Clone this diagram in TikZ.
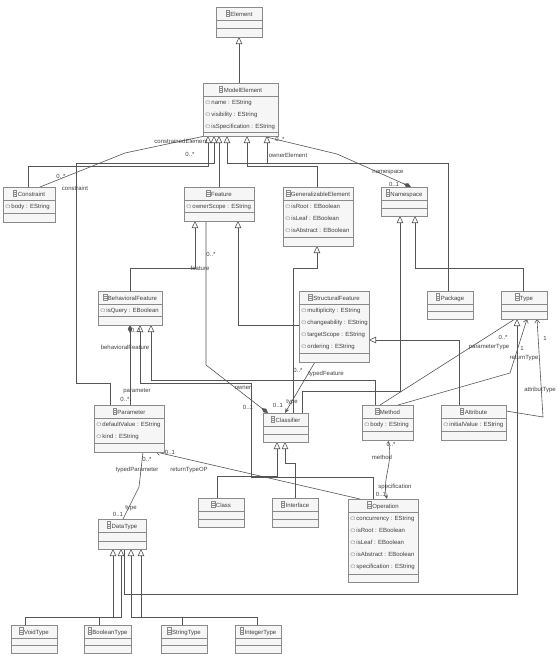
\documentclass[tikz,border=0pt]{standalone}
\usepackage{fontspec}
\setmainfont{Liberation Sans}
\usetikzlibrary{arrows.meta,shadows}
\pgfdeclarelayer{bg}
\pgfsetlayers{bg,main}
\definecolor{linec}{HTML}{555555}
\definecolor{boxc}{HTML}{8A8A8A}
\definecolor{boxf}{HTML}{F6F6F6}
\definecolor{txtc}{HTML}{404040}
\newcommand{\clsicon}{\tikz[x=1pt,y=1pt,baseline=-0.3pt]{\draw[line width=0.35pt,boxc] (0,0) rectangle (3.6,6.4); \draw[line width=0.35pt,boxc] (0,2.1)--(3.6,2.1) (0,4.3)--(3.6,4.3);}}
\newcommand{\aicon}{\tikz[x=1pt,y=1pt,baseline=0pt]{\draw[line width=0.35pt,boxc,rounded corners=0.6pt] (0,0.6) rectangle (3.8,3.2);}\hspace{1.6pt}}
\tikzset{
 cbox/.style={draw=boxc, fill=boxf, line width=0.6pt, inner sep=0pt, outer sep=0pt, drop shadow={shadow xshift=1pt, shadow yshift=-1pt, opacity=0.3}},
 cline/.style={draw=boxc, line width=0.5pt},
 ctitle/.style={font=\fontsize{6}{7}\selectfont, text=txtc, inner sep=0pt},
 cattr/.style={font=\fontsize{6}{12}\selectfont, text=txtc, inner sep=0pt, align=left},
 gen/.style={draw=linec, line width=0.6pt, -{Triangle[open,length=7pt,width=6.5pt]}},
 assoc/.style={draw=linec, line width=0.6pt},
 comp/.style={draw=linec, line width=0.6pt, {Diamond[length=8pt,width=4.5pt]}-},
 nav/.style={draw=linec, line width=0.6pt, -{Straight Barb[length=3.5pt,width=5pt]}},
 lbl/.style={font=\fontsize{6}{7}\selectfont, text=txtc, inner sep=0pt},
}
\newcommand{\umlbox}[8]{%
 \node[cbox, minimum width={(#4-#2)*1pt}, minimum height={(#5-#3)*1pt}, anchor=north west] (#1) at (#2,#3) {};
 \draw[cline] (#2,{#3+13}) -- (#4,{#3+13});
 \draw[cline] (#2,#7) -- (#4,#7);
 \node[ctitle] (#1-t) at ({(#2+#4)/2},{#3+6.5}) {\clsicon\,#6};
 \node[cattr, anchor=north west] (#1-a) at ({#2+2.5},{#3+16.5}) {#8};
}
\begin{document}
\begin{tikzpicture}[x=1pt,y=-1pt]
\useasboundingbox (0,0) rectangle (557,667);
\begin{pgfonlayer}{bg}
\fill[white] (0,0) rectangle (557,667);
\end{pgfonlayer}

\umlbox{Element}{216}{7}{262}{37}{Element}{28}{}
\umlbox{ModelElement}{203}{83}{278}{136}{ModelElement}{132}{\aicon name : EString\\\aicon visibility : EString\\\aicon isSpecification : EString}
\umlbox{Constraint}{3}{187}{55}{222}{Constraint}{213}{\aicon body : EString}
\umlbox{Feature}{184}{187}{254}{221}{Feature}{212}{\aicon ownerScope : EString}
\umlbox{GE}{283}{187}{353}{246}{GeneralizableElement}{237}{\aicon isRoot : EBoolean\\\aicon isLeaf : EBoolean\\\aicon isAbstract : EBoolean}
\umlbox{Namespace}{381}{187}{427}{216}{Namespace}{208}{}
\umlbox{Package}{427}{291}{473}{319}{Package}{311}{}
\umlbox{Type}{501}{291}{547}{319}{Type}{311}{}
\umlbox{BF}{98}{291}{162}{325}{BehavioralFeature}{316}{\aicon isQuery : EBoolean}
\umlbox{SF}{299}{291}{369}{362}{StructuralFeature}{353}{\aicon multiplicity : EString\\\aicon changeability : EString\\\aicon targetScope : EString\\\aicon ordering : EString}
\umlbox{Classifier}{263}{413}{308}{442}{Classifier}{434}{}
\umlbox{Method}{362}{405}{413}{440}{Method}{431}{\aicon body : EString}
\umlbox{Attribute}{441}{405}{506}{440}{Attribute}{431}{\aicon initialValue : EString}
\umlbox{Parameter}{94}{405}{164}{452}{Parameter}{443}{\aicon defaultValue : EString\\\aicon kind : EString}
\umlbox{DataType}{98}{519}{146}{549}{DataType}{541}{}
\umlbox{Class}{198}{498}{244}{527}{Class}{519}{}
\umlbox{Interface}{272}{498}{318}{527}{Interface}{519}{}
\umlbox{Operation}{348}{499}{418}{582}{Operation}{574}{\aicon concurrency : EString\\\aicon isRoot : EBoolean\\\aicon isLeaf : EBoolean\\\aicon isAbstract : EBoolean\\\aicon specification : EString}
\umlbox{VoidType}{11}{625}{57}{653}{VoidType}{645}{}
\umlbox{BooleanType}{84}{625}{131}{653}{BooleanType}{645}{}
\umlbox{StringType}{161}{625}{207}{653}{StringType}{645}{}
\umlbox{IntegerType}{235}{625}{281}{653}{IntegerType}{645}{}

\begin{pgfonlayer}{bg}
% generalizations
\draw[gen] (ModelElement.north -| Element.south) -- (Element.south);
\draw[gen] (Constraint.north -| 28,0) |- (208,166) -- (ModelElement.south -| 208,0);
\draw[gen] (Parameter.north -| 110,0) |- (76,383) |- (214,163) -- (ModelElement.south -| 214,0);
\draw[gen] (Feature.north -| 219,0) -- (ModelElement.south -| 219,0);
\draw[gen] (Package.north -| 448,0) |- (227,163) -- (ModelElement.south -| 227,0);
\draw[gen] (GE.north -| 317,0) |- (247,166) -- (ModelElement.south -| 247,0);
\coordinate (nsj) at (267,163);
\draw[gen] (nsj) -- (ModelElement.south -| nsj);
\draw[gen] (BF.north -| 130,0) |- (195,268) -- (Feature.south -| 195,0);
\draw[gen] (SF.west |- 0,325) -| (Feature.south -| 238,0);
\draw[gen] (Classifier.north -| 293,0) |- (317,268) -- (GE.south -| 317,0);
\draw[gen] (Classifier.north -| 302,0) |- (400,391) -- (Namespace.south -| 400,0);
\draw[gen] (Type.north -| 523,0) |- (415,268) -- (Namespace.south -| 415,0);
\draw[gen] (Method.north -| 375,0) |- (151,380) -- (BF.south -| 151,0);
\draw[gen] (Operation.north -| 373,0) |- (251,477) |- (140,383) -- (BF.south -| 140,0);
\draw[gen] (Attribute.north -| 459,0) |- (SF.east |- 0,340);
\draw[gen] (Class.north -| 217,0) |- (277,476) -- (Classifier.south -| 277,0);
\draw[gen] (Interface.north -| 295,0) |- (285,463) -- (Classifier.south -| 285,0);
\draw[gen] (DataType.south -| 124,0) |- (517,594) -- (Type.south -| 517,0);
\draw[gen] (VoidType.north -| 25,0) |- (113,617) -- (DataType.south -| 113,0);
\draw[gen] (BooleanType.north -| 99,0) |- (121,617) -- (DataType.south -| 121,0);
\draw[gen] (StringType.north -| 182,0) |- (131,617) -- (DataType.south -| 131,0);
\draw[gen] (IntegerType.north -| 257,0) |- (141,617) -- (DataType.south -| 141,0);
% associations
\draw[assoc] (Constraint.north -| 40,0) -- (125,153) -- (ModelElement.south -| 205,0);
\draw[comp] (Namespace.north -| 411,0) -- (337,154) -- (ModelElement.south -| 262,0);
\draw[comp] (Classifier.north -| 268,0) -- (206,365) -- (Feature.south -| 206,0);
\draw[comp] (BF.south -| 130,0) -- (Parameter.north -| 130,0);
\draw[assoc,-{Stealth[length=5pt,width=4pt]}] (SF.south -| 315,0) -- (Classifier.north -| 285,0);
\draw[assoc] (Parameter.south -| 143,0) -- (139,487) -- (DataType.north -| 123,0);
\draw[nav] (Operation.north -| 360,0) -- (Parameter.south -| 156,0);
\draw[assoc,-{Stealth[length=4pt,width=3.5pt]}] (Method.south -| 388,0) .. controls (394,462) and (382,478) .. (Operation.north -| 387,0);
\draw[assoc] (Method.north -| 380,0) -- (Type.south -| 515,0);
\draw[nav] (Method.north -| 398,0) -- (510,373) -- (Type.south -| 527,0);
\draw[nav] (Attribute.east |- 0,411) -- (543,417) -- (Type.south -| 537,0);
\end{pgfonlayer}

% labels
\node[lbl] (l1) at (181,141) {constrainedElement};
\node[lbl] (l2) at (190,154) {0..*};
\node[lbl] (l3) at (61,176) {0..*};
\node[lbl] (l4) at (75,188) {constraint};
\node[lbl] (l5) at (280,139) {0..*};
\node[lbl] (l6) at (288,155) {ownerElement};
\node[lbl] (l7) at (388,173) {namespace};
\node[lbl] (l8) at (394,184) {0..1};
\node[lbl] (l9) at (211,254) {0..*};
\node[lbl] (l10) at (200,268) {feature};
\node[lbl] (l11) at (243,388) {owner};
\node[lbl] (l12) at (248,407) {0..1};
\node[lbl] (l13) at (136,330) {0..1};
\node[lbl] (l14) at (125,347) {behavioralFeature};
\node[lbl] (l15) at (137,391) {parameter};
\node[lbl] (l16) at (125,399) {0..*};
\node[lbl] (l17) at (298,370) {0..*};
\node[lbl] (l18) at (326,374) {typedFeature};
\node[lbl] (l19) at (278,405) {0..1};
\node[lbl] (l20) at (292,402) {type};
\node[lbl] (l21) at (147,459) {0..*};
\node[lbl] (l22) at (137,470) {typedParameter};
\node[lbl] (l23) at (118,514) {0..1};
\node[lbl] (l24) at (131,508) {type};
\node[lbl] (l25) at (170,452) {0..1};
\node[lbl] (l26) at (189,470) {returnTypeOP};
\node[lbl] (l27) at (391,444) {0..*};
\node[lbl] (l28) at (382,457) {method};
\node[lbl] (l29) at (395,487) {specification};
\node[lbl] (l30) at (381,494) {0..1};
\node[lbl] (l31) at (503,337) {0..*};
\node[lbl] (l32) at (489,347) {parameterType};
\node[lbl] (l33) at (522,348) {1};
\node[lbl] (l34) at (524,358) {returnType};
\node[lbl] (l35) at (545,338) {1};
\node[lbl] (l36) at (540,390) {attributType};
\end{tikzpicture}
\end{document}
